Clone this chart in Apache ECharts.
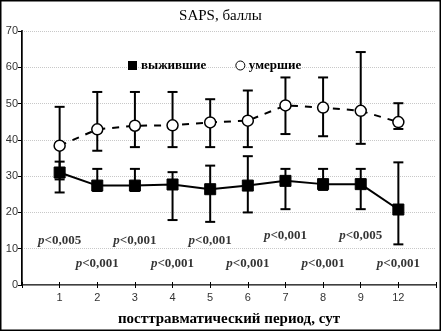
<!DOCTYPE html>
<html><head><meta charset="utf-8">
<script src="https://cdn.jsdelivr.net/npm/echarts@6/dist/echarts.min.js"></script>
<style>html,body{margin:0;padding:0;background:#fff}#c{width:441px;height:331px}</style>
</head><body><div id="c"></div>
<script>
var categories = ['1','2','3','4','5','6','7','8','9','12'];
var survMean = [31.0, 27.4, 27.4, 27.7, 26.4, 27.4, 28.7, 27.8, 27.8, 20.8];
var survLow  = [25.5, 25.9, 25.9, 17.9, 17.4, 20.0, 20.9, 26.2, 20.9, 11.2];
var survHigh = [34.0, 32.0, 32.0, 31.1, 32.9, 35.5, 32.0, 32.0, 32.0, 33.8];
var deadMean = [38.4, 42.9, 43.9, 44.0, 44.8, 45.3, 49.5, 48.9, 48.0, 44.9];
var deadLow  = [29.1, 37.0, 38.0, 38.0, 38.0, 38.0, 41.6, 41.0, 38.9, 43.0];
var deadHigh = [49.1, 53.2, 53.2, 53.2, 51.2, 53.6, 57.2, 57.2, 64.2, 50.1];
var pTexts = ['<0,005','<0,001','<0,001','<0,001','<0,001','<0,001','<0,001','<0,001','<0,005','<0,001'];
var pY = [12.2, 6.0, 12.2, 6.0, 12.2, 6.0, 13.6, 6.0, 13.6, 6.0];
var yTicks = [0,10,20,30,40,50,60,70];

function pos(i){return i+1;}
function pairs(arr){return arr.map(function(v,i){return [pos(i),v];});}
function errData(lo,hi){return lo.map(function(v,i){return [pos(i),v,hi[i]];});}

function errRender(params, api){
  var x = api.value(0);
  var lo = api.coord([x, api.value(1)]);
  var hi = api.coord([x, api.value(2)]);
  var w = 5;
  var st = {stroke:'#000', lineWidth:2};
  return {type:'group', children:[
    {type:'line', shape:{x1:lo[0],y1:lo[1],x2:hi[0],y2:hi[1]}, style:st},
    {type:'line', shape:{x1:lo[0]-w,y1:lo[1],x2:lo[0]+w,y2:lo[1]}, style:st},
    {type:'line', shape:{x1:hi[0]-w,y1:hi[1],x2:hi[0]+w,y2:hi[1]}, style:st}
  ]};
}

var serif = '"Liberation Serif","DejaVu Serif",serif';
var sans = '"Liberation Sans",Arial,sans-serif';
var chart = echarts.init(document.getElementById('c'), null, {renderer:'canvas'});
chart.setOption({
  animation:false,
  backgroundColor:'#fff',
  title:{text:'SAPS, баллы', left:'center', top:4,
    textStyle:{fontFamily:serif, fontSize:15, fontWeight:'normal', color:'#000'}},
  legend:{left:123, top:57, itemWidth:9, itemHeight:9, itemGap:29, padding:[2,5,2,5],
    textStyle:{fontFamily:serif, fontSize:13, fontWeight:'bold', color:'#000', padding:[0,0,0,-1]},
    data:[{name:'выжившие', icon:'rect'},
          {name:'умершие', icon:'circle', itemStyle:{color:'#fff', borderColor:'#000', borderWidth:1}}]},
  grid:{left:22, right:5, top:31, bottom:46, containLabel:false, outerBoundsMode:'none'},
  xAxis:[{type:'value', min:0, max:11, interval:1, position:'bottom',
    name:'посттравматический период, сут', nameLocation:'middle', nameGap:27,
    nameTextStyle:{fontFamily:serif, fontSize:15, fontWeight:'bold', color:'#000'},
    axisLine:{lineStyle:{color:'#000', width:1.5}},
    axisTick:{show:true, inside:true, length:3, lineStyle:{color:'#000'}},
    axisLabel:{margin:7, fontFamily:sans, fontSize:11, color:'#333',
      formatter:function(v){return (v>=1 && v<=10) ? categories[v-1] : '';}},
    splitLine:{show:false}},
   {type:'value', min:0, max:11, interval:1, position:'top',
    axisLine:{show:true, lineStyle:{color:'#888', width:1}},
    axisTick:{show:true, inside:true, length:3, lineStyle:{color:'#000'}},
    axisLabel:{show:false}, splitLine:{show:false}}],
  yAxis:[{type:'value', min:0, max:70, interval:10, position:'left',
    axisLine:{show:true, lineStyle:{color:'#000', width:2}},
    axisTick:{show:true, length:3, lineStyle:{color:'#000'}},
    axisLabel:{margin:4, fontFamily:sans, fontSize:11, color:'#333',
      formatter:function(v){return yTicks.indexOf(v)>=0 ? String(v) : '';}},
    splitLine:{show:true, lineStyle:{color:'#c8c8c8', type:'dotted', width:1}}},
   {type:'value', min:0, max:70, interval:10, position:'right',
    axisLine:{show:true, lineStyle:{color:'#444', width:1}},
    axisTick:{show:true, inside:true, length:4, lineStyle:{color:'#000'}},
    axisLabel:{show:false}, splitLine:{show:false}}],
  series:[
    {type:'custom', name:'errS', renderItem:errRender, data:errData(survLow,survHigh), z:2, silent:true},
    {type:'custom', name:'errD', renderItem:errRender, data:errData(deadLow,deadHigh), z:2, silent:true},
    {type:'line', name:'выжившие', data:pairs(survMean), z:3,
      symbol:'rect', symbolSize:11, showAllSymbol:true,
      lineStyle:{color:'#000', width:2}, itemStyle:{color:'#000', borderColor:'#000'}},
    {type:'line', name:'умершие', data:pairs(deadMean), z:3,
      symbol:'circle', symbolSize:11, showAllSymbol:true,
      lineStyle:{color:'#000', width:2, type:[7,7]},
      itemStyle:{color:'#fff', borderColor:'#000', borderWidth:1.5}},
    {type:'scatter', name:'p', data:pairs(pY), symbolSize:0, z:4, silent:true,
      label:{show:true, position:'inside',
        formatter:function(p){return '{i|p}{n|'+pTexts[p.dataIndex]+'}';},
        rich:{i:{fontFamily:serif, fontSize:13, fontWeight:'bold', fontStyle:'italic', color:'#000'},
              n:{fontFamily:serif, fontSize:13, fontWeight:'bold', color:'#000'}}}}
  ],
  graphic:[{type:'rect', shape:{x:0.5,y:0.5,width:440,height:330}, style:{fill:'none', stroke:'#000', lineWidth:2}, silent:true}]
});
</script></body></html>
